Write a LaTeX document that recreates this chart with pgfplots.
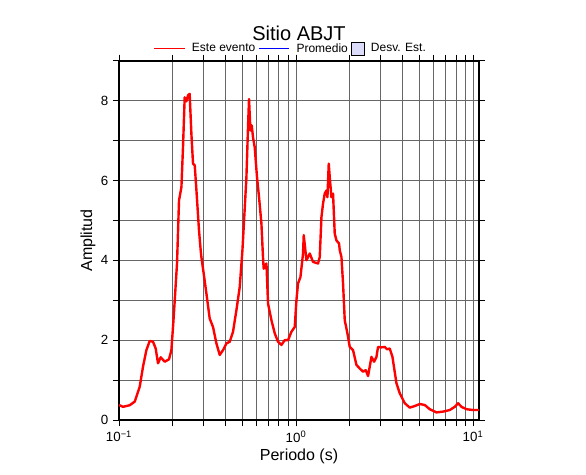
\documentclass[border=0pt]{standalone}
\usepackage{pgfplots}
\pgfplotsset{compat=1.18}
\usepackage{fontspec}
\setmainfont{Liberation Sans}
\definecolor{devfill}{RGB}{220,220,250}
\pgfplotsset{
  mylineleg/.style={legend image code/.code={\draw[##1, line width=1.1pt] (0pt,0pt) -- (23pt,0pt);}},
  myboxleg/.style={legend image code/.code={\draw[##1] (0pt,-5pt) rectangle (10pt,5pt);}},
}
\begin{document}
\begin{tikzpicture}
\useasboundingbox (-89.25pt,-41.25pt) rectangle (350.25pt,315pt);
\begin{axis}[
  name=ax, at={(0,0)}, anchor=south west,
  scale only axis, width=270pt, height=269.5pt,
  xmode=log, xmin=0.1, xmax=10.8, ymin=0, ymax=9,
  axis line style={line width=1.5pt},
  grid=both,
  major grid style={black!60, line width=0.6pt},
  minor grid style={black!60, line width=0.6pt},
  tick align=outside, major tick length=4.5pt, minor tick length=4.5pt,
  every tick/.style={black, line width=0.6pt},
  ytick={0,2,4,6,8}, minor ytick={1,3,5,7,9},
  xtick={0.1,1,10},
  xticklabels={10\textsuperscript{−1},10\textsuperscript{0},10\textsuperscript{1}},
  /pgf/number format/assume math mode=true,
  ticklabel style={font=\fontsize{10}{12}\selectfont},
  xlabel={Periodo (s)}, ylabel={Amplitud},
  label style={font=\fontsize{12}{14}\selectfont},
  xlabel style={at={(axis description cs:0.5,0)}, anchor=base, yshift=-30pt},
  ylabel style={at={(axis description cs:-0.086,0.5)}, anchor=center},
  legend columns=3,
  legend style={at={(axis description cs:0.5,1)}, anchor=center, xshift=-6pt, yshift=9pt,
    draw=none, fill=none, font=\fontsize{9}{11}\selectfont,
    /tikz/every odd column/.append style={column sep=2.8pt}},
]
\addplot[red, line width=1.8pt, line join=round, mylineleg] table {
0.1000 0.375
0.1054 0.33
0.1149 0.37
0.1227 0.46
0.1309 0.83
0.1366 1.33
0.1428 1.75
0.1491 1.98
0.1557 1.96
0.1612 1.79
0.1661 1.42
0.1720 1.57
0.1813 1.46
0.1916 1.52
0.1977 1.75
0.2037 2.58
0.2127 3.92
0.2183 5.5
0.2252 5.83
0.2299 6.83
0.2350 8.08
0.2402 7.98
0.2453 8.13
0.2507 8.17
0.2564 7.17
0.2619 6.42
0.2678 6.38
0.2738 5.75
0.2831 4.75
0.2894 4.25
0.2920 4.08
0.3009 3.67
0.3117 3.17
0.3254 2.54
0.3397 2.33
0.3550 1.92
0.3706 1.63
0.3870 1.75
0.4045 1.92
0.4222 1.96
0.4406 2.21
0.4605 2.75
0.4807 3.33
0.4980 4.25
0.5245 6.08
0.5355 7.33
0.5426 8.04
0.5525 7.25
0.5619 7.38
0.5715 7.08
0.5843 6.83
0.6021 6.08
0.6180 5.58
0.6375 4.92
0.6480 4.25
0.6520 4.0
0.6569 3.79
0.6806 3.92
0.6949 2.92
0.7261 2.5
0.7583 2.17
0.7911 1.96
0.8270 1.88
0.8632 2.0
0.9013 2.0
0.9419 2.21
0.9833 2.33
1.0053 3.0
1.0264 3.42
1.0590 3.58
1.0953 4.17
1.1053 4.63
1.1451 4.0
1.1952 4.17
1.2474 3.96
1.3314 3.92
1.3612 4.08
1.3916 5.08
1.4208 5.42
1.4525 5.67
1.4852 5.75
1.5046 5.58
1.5302 6.42
1.5504 6.08
1.5849 5.58
1.6182 5.67
1.6543 4.67
1.6913 4.5
1.7496 4.42
1.7658 4.25
1.8053 4.08
1.8433 3.42
1.8844 2.5
1.9514 2.17
2.0107 1.83
2.0989 1.75
2.1938 1.38
2.2901 1.29
2.3906 1.21
2.4763 1.25
2.5515 1.1
2.6669 1.58
2.7586 1.46
2.8460 1.58
2.9060 1.83
3.0372 1.82
3.1703 1.83
3.2667 1.77
3.3837 1.79
3.5047 1.58
3.6918 0.92
3.8538 0.67
4.1133 0.42
4.3892 0.31
4.6839 0.35
5.0003 0.40
5.3358 0.375
5.6941 0.27
6.2128 0.19
6.7672 0.21
7.3858 0.25
7.8813 0.33
8.2282 0.42
8.6008 0.33
9.1786 0.27
10.0 0.25
10.77 0.25
};
\addlegendentry{Este evento}
\addlegendimage{blue, mylineleg}
\addlegendentry{Promedio}
\addlegendimage{draw=black, fill=devfill, line width=0.5pt, myboxleg}
\addlegendentry{Desv. Est.}
\end{axis}
\node[anchor=base, font=\fontsize{15}{18}\selectfont] at (135pt,284.8pt) {Sitio ABJT};
\end{tikzpicture}
\end{document}
